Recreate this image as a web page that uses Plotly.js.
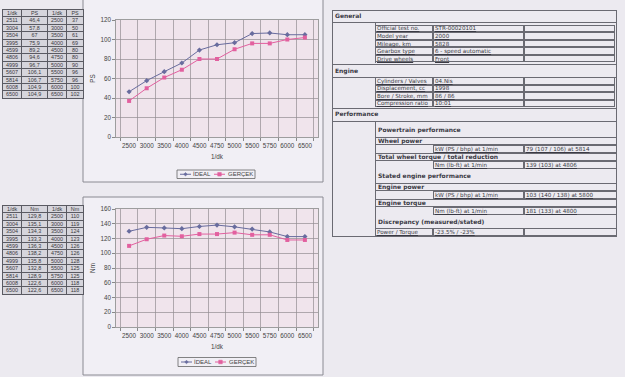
<!DOCTYPE html>
<html><head><meta charset="utf-8">
<script src="https://cdn.plot.ly/plotly-3.0.1.min.js"></script>
<style>
html,body{margin:0;padding:0;background:#eceaf0;width:625px;height:377px;overflow:hidden;}
#chart{position:absolute;left:0;top:0;width:625px;height:377px;}
#spec{position:absolute;left:0;top:0;width:625px;height:377px;pointer-events:none;font-family:"DejaVu Sans",Verdana,sans-serif;color:#3a3a44;}
#spec .t{position:absolute;white-space:nowrap;font-size:5.6px;line-height:8px;height:8px;}
#spec .u{text-decoration:underline;}
#spec .b{font-weight:bold;font-size:6px;}
#spec .ln{position:absolute;background:#6a6a72;}
#spec .bx{position:absolute;border:0.8px solid #6a6a72;box-sizing:border-box;}
table.dt{position:absolute;left:2px;width:81px;border-collapse:collapse;table-layout:fixed;
  font-family:"Liberation Sans",Arial,sans-serif;font-size:5.4px;color:#3a3a40;background:#d6d5dc;}
table.dt td{border:0.8px solid #5a5a62;height:6.4px;line-height:6.4px;padding:0;text-align:center;overflow:hidden;white-space:nowrap;}
</style></head><body>
<div id="chart"></div>
<div id="spec"></div>
<script>
// ---------- data ----------
const categories = ['2500','3000','3500','4000','4500','4750','5000','5500','5750','6000','6500'];
const measuredRpm = [2511,3004,3504,3995,4599,4806,4999,5607,5814,6008,6500];
const psIdeal  = [46.4,57.8,67,75.9,89.2,94.6,96.7,106.1,106.7,104.9,104.9];
const psGercek = [37,50,61,69,80,80,90,96,96,100,102];
const nmIdeal  = [129.8,135.1,134.3,133.3,136.3,138.2,135.8,132.8,128.9,122.6,122.6];
const nmGercek = [110,119,124,123,126,126,128,125,125,118,118];
const seriesNames = ['İDEAL','GERÇEK'];
const psHeader = ['1/dk','PS','1/dk','PS'];
const nmHeader = ['1/dk','Nm','1/dk','Nm'];

const generalRows = [
  ['Official test no.','STR-00020101'],
  ['Model year','2000'],
  ['Mileage, km','5828'],
  ['Gearbox type','6 - speed automatic'],
  ['Drive wheels','Front']
];
const engineRows = [
  ['Cylinders / Valves','04.Nis'],
  ['Displacement, cc','1998'],
  ['Bore / Stroke, mm','86 / 86'],
  ['Compression ratio','10:01']
];
const perfTitle = 'Powertrain performance';
const wheelPower = ['Wheel power','kW (PS / bhp) at 1/min','79 (107 / 106) at 5814'];
const wheelTorque = ['Total wheel torque / total reduction','Nm (lb-ft) at 1/min','139 (103) at 4806'];
const statedTitle = 'Stated engine performance';
const enginePower = ['Engine power','kW (PS / bhp) at 1/min','103 (140 / 138) at 5800'];
const engineTorque = ['Engine torque','Nm (lb-ft) at 1/min','181 (133) at 4800'];
const discrepancy = ['Discrepancy (measured/stated)','Power / Torque','-23.5% / -23%'];

// ---------- helpers ----------
const W = 625, H = 377;
const px = x => x / W;
const py = y => 1 - y / H;
const fmt = v => String(v).replace('.', ',');

const lineColor = ['#686c9e', '#e2609f'];
const markers = ['diamond', 'square'];

function series(yvals, i, xa, ya) {
  return {
    type: 'scatter', mode: 'lines+markers', x: categories, y: yvals,
    name: seriesNames[i], xaxis: xa, yaxis: ya, showlegend: false,
    line: {color: lineColor[i], width: 1},
    marker: {symbol: markers[i], size: 4, color: lineColor[i]}
  };
}

const data = [
  series(psIdeal, 0, 'x', 'y'),
  series(psGercek, 1, 'x', 'y'),
  series(nmIdeal, 0, 'x2', 'y2'),
  series(nmGercek, 1, 'x2', 'y2')
];

const axisFont = {family: 'Liberation Sans, Arial', size: 6.3, color: '#444'};
function xAxis(anchor) {
  return {domain: [px(116), px(318)], anchor: anchor, type: 'category',
    tickson: 'boundaries', showgrid: true, gridcolor: '#938d93', gridwidth: 0.7,
    showline: true, mirror: true, linecolor: '#888', linewidth: 0.8,
    ticks: 'outside', ticklen: 3, tickcolor: '#888', tickfont: axisFont, tickangle: 0,
    ticklabelstandoff: 3,
    title: {text: '1/dk', font: axisFont, standoff: 6}, fixedrange: true};
}
function yAxis(anchor, top, bottom, max) {
  return {domain: [py(bottom), py(top)], anchor: anchor, range: [0, max], dtick: 20,
    showgrid: true, gridcolor: '#938d93', gridwidth: 0.7, zeroline: false,
    showline: true, mirror: true, linecolor: '#888', linewidth: 0.8,
    ticks: 'outside', ticklen: 3, tickcolor: '#888', tickfont: axisFont,
    title: {font: axisFont, standoff: 4}, fixedrange: true};
}
const y1 = yAxis('x', 20, 137, 120); y1.title.text = 'PS';
const y2 = yAxis('x2', 209, 327, 160); y2.title.text = 'Nm';

// frames + compact Excel-style legend (shapes + annotations)
const shapes = [
  {type: 'rect', xref: 'paper', yref: 'paper', x0: px(83), x1: px(323), y0: py(182), y1: py(-2),
   line: {color: '#8a8a92', width: 1}, fillcolor: 'rgba(245,244,249,0.5)', layer: 'below'},
  {type: 'rect', xref: 'paper', yref: 'paper', x0: px(83), x1: px(323), y0: py(375), y1: py(197),
   line: {color: '#8a8a92', width: 1}, fillcolor: 'rgba(245,244,249,0.5)', layer: 'below'}
];
const annotations = [];
function legendBox(x0, x1, y0, y1, items) {
  const yc = (y0 + y1) / 2;
  shapes.push({type: 'rect', xref: 'paper', yref: 'paper', x0: px(x0), x1: px(x1), y0: py(y1), y1: py(y0),
    line: {color: '#666', width: 0.8}, fillcolor: 'rgba(0,0,0,0)'});
  items.forEach((it, i) => {
    const c = lineColor[i];
    shapes.push({type: 'line', xref: 'paper', yref: 'paper', x0: px(it.l0), x1: px(it.l1), y0: py(yc), y1: py(yc),
      line: {color: c, width: 1}});
    const mx = (it.l0 + it.l1) / 2, s = 1.8;
    if (markers[i] === 'diamond') {
      shapes.push({type: 'path', xref: 'paper', yref: 'paper',
        path: `M${px(mx - s)},${py(yc)} L${px(mx)},${py(yc - s)} L${px(mx + s)},${py(yc)} L${px(mx)},${py(yc + s)} Z`,
        fillcolor: c, line: {color: c, width: 0.5}});
    } else {
      shapes.push({type: 'rect', xref: 'paper', yref: 'paper',
        x0: px(mx - s), x1: px(mx + s), y0: py(yc + s), y1: py(yc - s), fillcolor: c, line: {color: c, width: 0.5}});
    }
    annotations.push({xref: 'paper', yref: 'paper', x: px(it.t), y: py(yc), xanchor: 'left', yanchor: 'middle',
      text: seriesNames[i], showarrow: false, borderpad: 0,
      font: {family: 'Liberation Sans, Arial', size: 6, color: '#444'}});
  });
}
legendBox(177, 255, 170, 178.5, [{l0: 180, l1: 191, t: 192}, {l0: 214, l1: 225, t: 227}]);
legendBox(178, 256, 357.5, 366.5, [{l0: 181, l1: 192, t: 193}, {l0: 215, l1: 226, t: 228}]);

const layout = {
  width: W, height: H, margin: {l: 0, r: 0, t: 0, b: 0},
  paper_bgcolor: 'rgba(0,0,0,0)', plot_bgcolor: '#ead4de',
  showlegend: false,
  xaxis: xAxis('y'), yaxis: y1,
  xaxis2: xAxis('y2'), yaxis2: y2,
  shapes: shapes, annotations: annotations
};

Plotly.newPlot('chart', data, layout, {displayModeBar: false, staticPlot: true});

// ---------- left data tables ----------
function dataTable(header, col2, col4, top) {
  const t = document.createElement('table');
  t.className = 'dt'; t.style.top = top + 'px';
  const cg = document.createElement('colgroup');
  [19, 26, 19, 17].forEach(w => { const c = document.createElement('col'); c.style.width = w + 'px'; cg.appendChild(c); });
  t.appendChild(cg);
  const rows = [header].concat(measuredRpm.map((r, i) => [String(r), fmt(col2[i]), categories[i], fmt(col4[i])]));
  rows.forEach(r => {
    const tr = document.createElement('tr');
    r.forEach(v => { const td = document.createElement('td'); td.textContent = v; tr.appendChild(td); });
    t.appendChild(tr);
  });
  document.body.appendChild(t);
}
dataTable(psHeader, psIdeal, psGercek, 9);
dataTable(nmHeader, nmIdeal, nmGercek, 205);

// ---------- spec panel (text table) ----------
const spec = document.getElementById('spec');
function txt(x, yc, s, cls) {
  const d = document.createElement('div');
  d.className = 't ' + (cls || '');
  d.style.left = x + 'px'; d.style.top = (yc - 4) + 'px';
  d.textContent = s; spec.appendChild(d);
}
function hline(x0, x1, y) {
  const d = document.createElement('div'); d.className = 'ln';
  d.style.left = x0 + 'px'; d.style.top = y + 'px';
  d.style.width = (x1 - x0) + 'px'; d.style.height = '0.8px'; spec.appendChild(d);
}
function vline(x, y0, y1) {
  const d = document.createElement('div'); d.className = 'ln';
  d.style.left = x + 'px'; d.style.top = y0 + 'px';
  d.style.width = '0.8px'; d.style.height = (y1 - y0) + 'px'; spec.appendChild(d);
}
function box(x0, y0, x1, y1) {
  const d = document.createElement('div'); d.className = 'bx';
  d.style.left = x0 + 'px'; d.style.top = y0 + 'px';
  d.style.width = (x1 - x0) + 'px'; d.style.height = (y1 - y0) + 'px'; spec.appendChild(d);
}

const L = 332, R = 617, C1 = 375, C2 = 433, C3 = 524;
box(L, 10, R, 237);
txt(335, 16, 'General', 'b');
hline(L, R, 22);
vline(C1, 22, 63);
generalRows.forEach((r, i) => {
  const top = 24.5 + i * 7.6;
  box(C1, top, C2, top + 7.6); box(C2, top, C3, top + 7.6); box(C3, top, R - 2, top + 7.6);
  txt(C1 + 2, top + 3.8, r[0], 'u'); txt(C2 + 2, top + 3.8, r[1], 'u');
});
hline(L, R, 64);
txt(335, 71, 'Engine', 'b');
hline(L, R, 76.5);
vline(C1, 76.5, 107);
engineRows.forEach((r, i) => {
  const top = 77 + i * 7.5;
  box(C1, top, C2, top + 7.5); box(C2, top, C3, top + 7.5); box(C3, top, R - 2, top + 7.5);
  txt(C1 + 2, top + 3.75, r[0], 'u'); txt(C2 + 2, top + 3.75, r[1], 'u');
});
hline(L, R, 107.5);
txt(335, 114, 'Performance', 'b');
hline(L, R, 120.5);
vline(C1, 120.5, 237);

txt(C1 + 3, 130, perfTitle, 'b');
hline(C1, R, 136.5);
function block(item, yHead, rowTop) {
  txt(C1 + 3, yHead, item[0], 'b');
  box(C1, rowTop - 8, R, rowTop);
  box(C2, rowTop, C3, rowTop + 8); box(C3, rowTop, R, rowTop + 8);
  txt(C2 + 2, rowTop + 4, item[1], 'u'); txt(C3 + 2, rowTop + 4, item[2], 'u');
}
block(wheelPower, 141, 145);
block(wheelTorque, 157, 161);
txt(C1 + 3, 176, statedTitle, 'b');
hline(C1, R, 182.5);
block(enginePower, 187, 191);
block(engineTorque, 203, 207);
txt(C1 + 3, 222, discrepancy[0], 'b');
hline(C1, R, 228);
box(C1, 228, C2, 236); box(C2, 228, C3, 236); box(C3, 228, R, 236);
txt(C1 + 2, 232, discrepancy[1], 'u'); txt(C2 + 2, 232, discrepancy[2], 'u');
</script>
</body></html>
